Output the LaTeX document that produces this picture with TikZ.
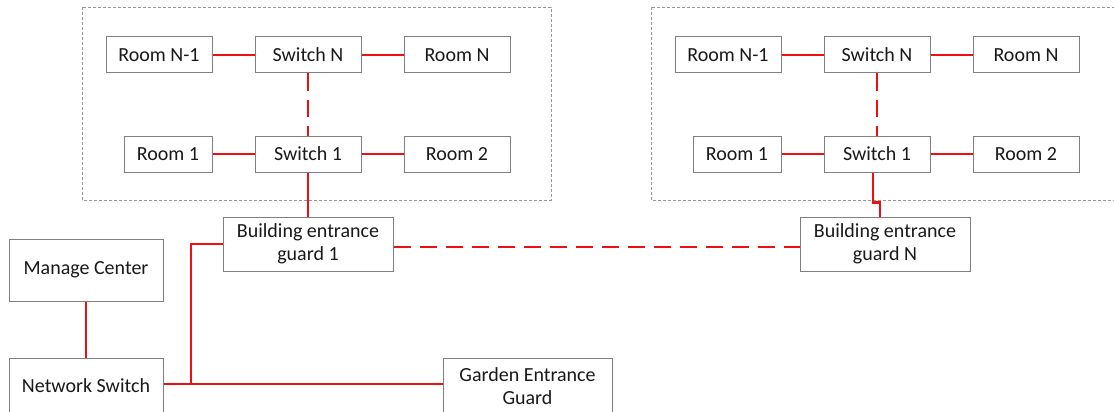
\documentclass[tikz,border=0pt]{standalone}
\usepackage{fontspec}
\setmainfont{Carlito}
\definecolor{wirered}{RGB}{238,16,16}
\definecolor{boxgray}{RGB}{128,128,128}
\definecolor{framegray}{RGB}{150,150,150}
\tikzset{
  box/.style={draw=boxgray, line width=1pt, inner sep=0pt, align=center,
    font=\fontsize{20}{23}\selectfont, text=black!90},
  room/.style={box, minimum width=106pt, minimum height=36pt},
  roomsmall/.style={box, minimum width=88pt, minimum height=36pt},
  guard/.style={box, minimum width=170pt, minimum height=54pt},
  frame/.style={draw=framegray, line width=0.9pt, dash pattern=on 3pt off 2pt},
  wire/.style={draw=wirered, line width=2.7pt},
  dwire/.style={wire, dash pattern=on 17pt off 9pt}
}
\begin{document}
\begin{tikzpicture}[x=1pt,y=-1pt]
\useasboundingbox (0,0) rectangle (1114,412);
\fill[white] (0,0) rectangle (1114,412);
% containers
\draw[frame] (82,7) rectangle (551,200);
\draw[frame] (651,7) rectangle (1120,200);
% left building
\node[room] (ln1) at (159,55) {Room N-1};
\node[room] (lsN) at (308,55) {Switch N};
\node[room] (lrN) at (457,55) {Room N};
\node[roomsmall] (lr1) at (168,154) {Room 1};
\node[room] (ls1) at (308,154) {Switch 1};
\node[room] (lr2) at (457,154) {Room 2};
% right building
\node[room] (rn1) at (728,55) {Room N-1};
\node[room] (rsN) at (877,55) {Switch N};
\node[room] (rrN) at (1026,55) {Room N};
\node[roomsmall] (rr1) at (737,154) {Room 1};
\node[room] (rs1) at (877,154) {Switch 1};
\node[room] (rr2) at (1026,154) {Room 2};
% guards
\node[guard] (g1) at (308,244) {Building entrance\\guard 1};
\node[guard] (gN) at (885,244) {Building entrance\\guard N};
\node[box, minimum width=154pt, minimum height=62pt] (mc) at (86,270) {Manage Center};
\node[box, minimum width=154pt, minimum height=56pt] (ns) at (86,386) {Network Switch};
\node[box, minimum width=169pt, minimum height=56pt] (gd) at (527.5,386) {Garden Entrance\\Guard};
% wires left building
\draw[wire] (ln1) -- (lsN);
\draw[wire] (lsN) -- (lrN);
\draw[wire] (lr1) -- (ls1);
\draw[wire] (ls1) -- (lr2);
\draw[dwire] (lsN) -- (ls1);
\draw[wire] (ls1) -- (g1);
% wires right building
\draw[wire] (rn1) -- (rsN);
\draw[wire] (rsN) -- (rrN);
\draw[wire] (rr1) -- (rs1);
\draw[wire] (rs1) -- (rr2);
\draw[dwire] (rsN) -- (rs1);
\draw[wire] ([xshift=-4pt]rs1.south) -- ++(0,30) -| ([xshift=-5pt]gN.north);
% guards
\draw[dwire] ([yshift=-3pt]g1.east) -- ([yshift=-3pt]gN.west);
\draw[wire] (mc) -- (ns);
\coordinate (j) at (191,384);
\draw[wire] (ns.east |- j) -- (gd.west |- j);
\draw[wire] (j) |- (g1.west);
\end{tikzpicture}
\end{document}
